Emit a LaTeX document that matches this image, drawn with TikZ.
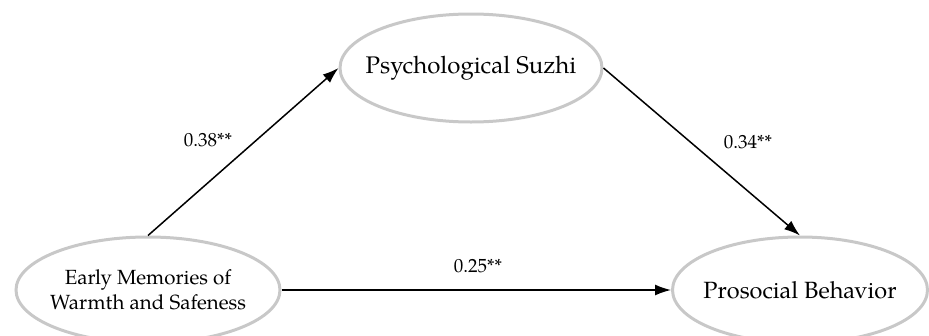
\documentclass[tikz,border=0pt]{standalone}
\usepackage{fontspec}
\setmainfont{TeX Gyre Pagella}
\usetikzlibrary{shapes.geometric,arrows.meta}
\definecolor{ringgray}{HTML}{C8C8C8}
\tikzset{
  var/.style={ellipse, draw=ringgray, line width=3pt, inner xsep=-20pt, inner ysep=0pt, align=center},
  path/.style={draw=black, line width=1.5pt, -{Latex[length=16pt,width=11pt]}},
  coef/.style={font=\fontsize{19}{22}\selectfont, inner sep=0pt}
}
\begin{document}
\begin{tikzpicture}[x=1pt,y=-1pt]
\useasboundingbox (0,0) rectangle (929,335);
\clip (0,0) rectangle (929,335);
\node[var, minimum width=264pt, minimum height=106pt, font=\fontsize{20.5}{25}\selectfont] (E) at (148,290) {Early Memories of\\Warmth and Safeness};
\node[var, minimum width=262pt, minimum height=108pt, font=\fontsize{24}{26}\selectfont] (P) at (471,68) {Psychological Suzhi};
\node[var, minimum width=255pt, minimum height=106pt, font=\fontsize{23.5}{26}\selectfont] (B) at (800,290) {Prosocial Behavior};
\draw[path] (E.north) -- (P.west);
\draw[path] (P.east) -- (B.north);
\draw[path] (E.east) -- (B.west);
\node[coef] (l1) at (208,140) {0.38**};
\node[coef] (l2) at (748,142) {0.34**};
\node[coef] (l3) at (478,266) {0.25**};
\end{tikzpicture}
\end{document}
